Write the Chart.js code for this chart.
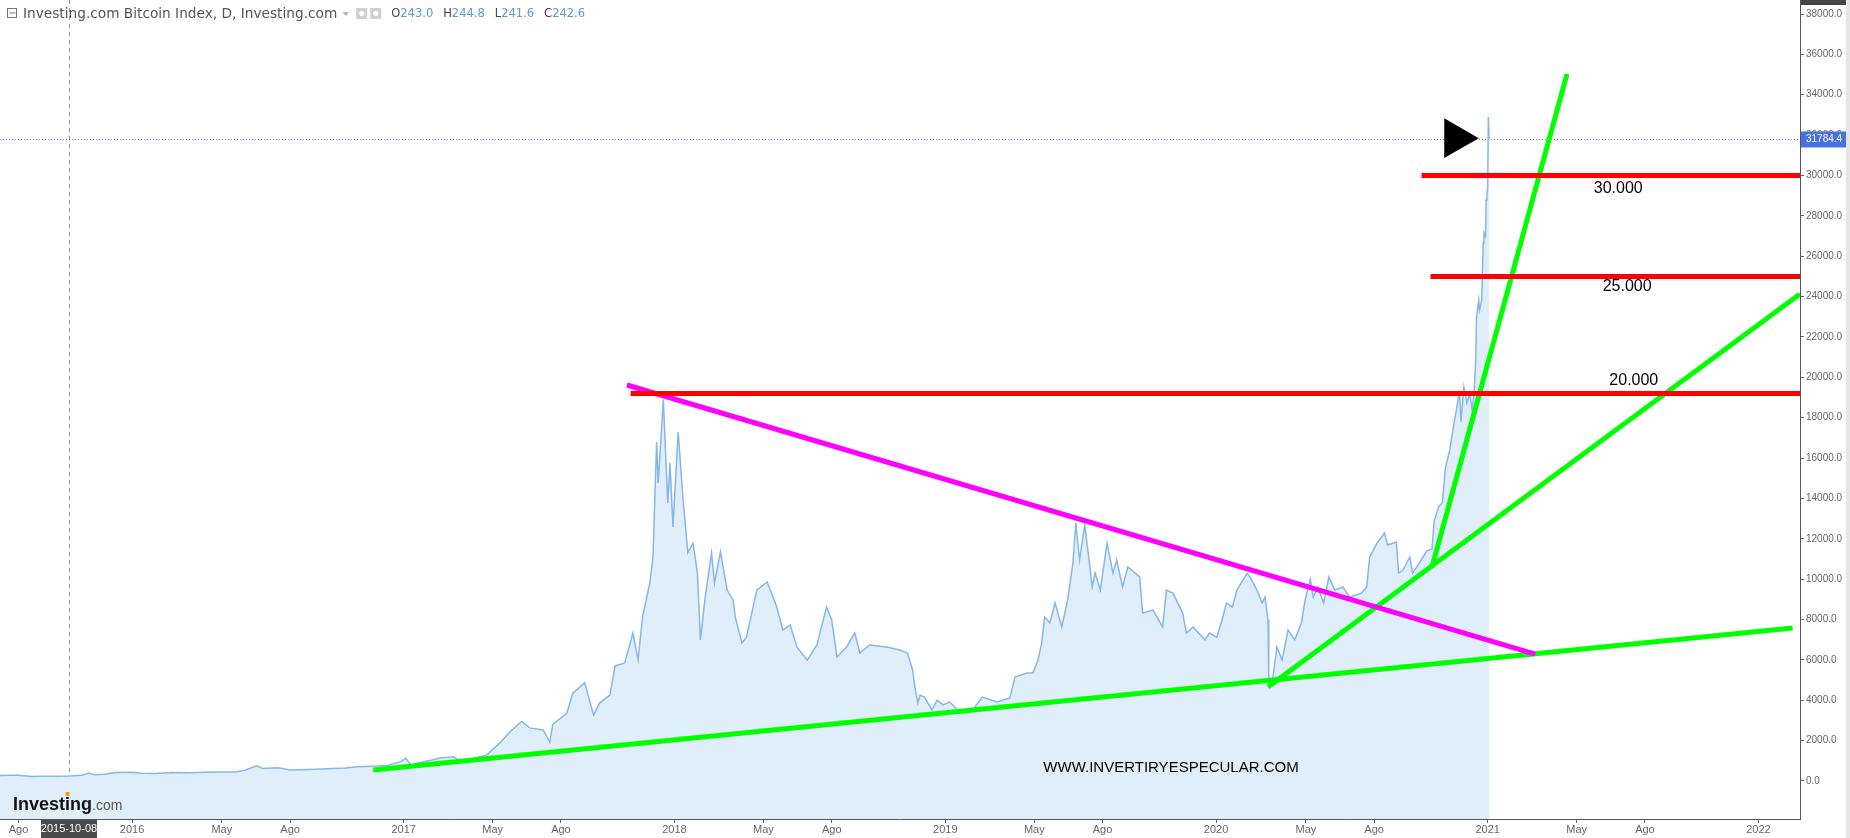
<!DOCTYPE html>
<html lang="es">
<head>
<meta charset="UTF-8">
<title>Investing.com Bitcoin Index</title>
<script src="https://cdn.jsdelivr.net/npm/chart.js"></script>
<style>
  html, body { margin: 0; padding: 0; background: #fff; overflow: hidden; }
</style>
</head>
<body>
<canvas id="btc" width="1850" height="838"></canvas>
<script>
// daily close
const dates = [
  '2015-07-07','2015-07-20','2015-08-01','2015-08-18','2015-09-01','2015-09-20','2015-10-08','2015-10-25',
  '2015-11-04','2015-11-11','2015-11-25','2015-12-10','2015-12-31','2016-01-15','2016-02-01','2016-02-25',
  '2016-03-20','2016-04-20','2016-05-20','2016-06-01','2016-06-17','2016-06-25','2016-07-15','2016-08-02',
  '2016-08-25','2016-09-20','2016-10-15','2016-10-30','2016-11-20','2016-12-10','2016-12-28','2017-01-04',
  '2017-01-11','2017-01-20','2017-02-05','2017-02-19','2017-03-10','2017-03-18','2017-03-30','2017-04-23',
  '2017-05-11','2017-05-24','2017-06-09','2017-06-20','2017-07-08','2017-07-17','2017-07-21','2017-08-09',
  '2017-08-17','2017-09-02','2017-09-14','2017-09-22','2017-10-06','2017-10-13','2017-10-26','2017-11-06',
  '2017-11-13','2017-11-19','2017-11-29','2017-12-03','2017-12-08','2017-12-10','2017-12-14','2017-12-17',
  '2017-12-23','2017-12-26','2017-12-30','2018-01-06','2018-01-12','2018-01-19','2018-01-26','2018-02-01',
  '2018-02-05','2018-02-11','2018-02-20','2018-02-24','2018-03-04','2018-03-13','2018-03-21','2018-03-24',
  '2018-04-02','2018-04-08','2018-04-22','2018-05-06','2018-05-19','2018-05-27','2018-06-06','2018-06-15',
  '2018-06-29','2018-07-12','2018-07-25','2018-08-01','2018-08-08','2018-08-21','2018-09-01','2018-09-08',
  '2018-09-21','2018-10-14','2018-11-01','2018-11-11','2018-11-18','2018-11-21','2018-11-25','2018-11-28',
  '2018-12-04','2018-12-14','2018-12-21','2018-12-29','2019-01-07','2019-01-18','2019-02-07','2019-02-20',
  '2019-03-12','2019-03-29','2019-04-05','2019-04-21','2019-04-29','2019-05-06','2019-05-11','2019-05-15',
  '2019-05-22','2019-05-29','2019-06-07','2019-06-15','2019-06-22','2019-06-26','2019-07-01','2019-07-08',
  '2019-07-15','2019-07-18','2019-07-22','2019-07-29','2019-08-07','2019-08-15','2019-08-20','2019-08-28',
  '2019-09-04','2019-09-20','2019-09-24','2019-10-08','2019-10-21','2019-10-26','2019-11-04','2019-11-17',
  '2019-11-22','2019-12-01','2019-12-17','2019-12-23','2020-01-02','2020-01-09','2020-01-15','2020-01-23',
  '2020-01-29','2020-02-12','2020-02-18','2020-02-25','2020-03-03','2020-03-07','2020-03-11','2020-03-12',
  '2020-03-17','2020-03-23','2020-03-30','2020-04-07','2020-04-16','2020-04-25','2020-04-30','2020-05-07',
  '2020-05-11','2020-05-17','2020-05-25','2020-06-01','2020-06-09','2020-06-20','2020-06-29','2020-07-15',
  '2020-07-22','2020-07-26','2020-08-05','2020-08-15','2020-08-19','2020-08-31','2020-09-03','2020-09-09',
  '2020-09-18','2020-09-22','2020-10-01','2020-10-11','2020-10-18','2020-10-21','2020-10-27','2020-11-01',
  '2020-11-05','2020-11-11','2020-11-17','2020-11-20','2020-11-24','2020-11-26','2020-11-30','2020-12-04',
  '2020-12-08','2020-12-11','2020-12-14','2020-12-16','2020-12-17','2020-12-20','2020-12-21','2020-12-24',
  '2020-12-26','2020-12-27','2020-12-29','2020-12-30','2020-12-31','2021-01-01','2021-01-02','2021-01-03'
];
const prices = [
  270, 280, 282, 228, 230, 232, 243, 290,
  400, 310, 330, 420, 430, 380, 375, 425,
  410, 440, 445, 530, 750, 620, 660, 540,
  575, 605, 640, 700, 730, 770, 960, 1130,
  780, 890, 1010, 1140, 1200, 960, 1050, 1290,
  1900, 2430, 2950, 2630, 2530, 1930, 2800, 3370,
  4350, 4860, 3270, 3860, 4260, 5700, 5850, 7330,
  6000, 8120, 9860, 11100, 16800, 14760, 17040, 18900,
  13770, 15750, 12580, 17290, 14270, 11300, 11790, 10300,
  6990, 8970, 11300, 9810, 11350, 9460, 8970, 8120,
  6840, 7130, 9460, 9860, 8620, 7480, 7730, 6640,
  5990, 6740, 8620, 7980, 6140, 6640, 7330, 6340,
  6740, 6640, 6490, 6340, 5500, 4660, 3860, 4260,
  4160, 3520, 4010, 3770, 3910, 3520, 3520, 4160,
  3910, 4110, 5150, 5350, 5350, 5990, 6840, 8120,
  7830, 8820, 7630, 8970, 10800, 12780, 10950, 12680,
  10600, 9610, 10300, 9460, 11790, 10300, 10950, 9610,
  10600, 10110, 8320, 8470, 7630, 9460, 9310, 8320,
  7330, 7630, 6990, 7330, 7130, 7980, 8820, 8620,
  9460, 10300, 9960, 9460, 8820, 9110, 7980, 5150,
  5000, 6640, 5990, 7480, 6990, 7830, 8970, 10000,
  9110, 9610, 8820, 10110, 9460, 9610, 9110, 9310,
  9610, 11100, 11790, 12290, 11690, 11840, 10300, 10450,
  11100, 10300, 10800, 11400, 11500, 12900, 13570, 13800,
  15500, 16400, 17800, 18400, 19370, 17800, 19520, 18730,
  19220, 18380, 19300, 21000, 22990, 23830, 23330, 23800,
  26650, 27150, 27000, 28780, 29000, 29400, 32900, 31784.4
];
const lastPrice = 31784.4;
const crossDate = '2015-10-08';
const ohlcKeys = ['O', 'H', 'L', 'C'];
const ohlcVals = ['243.0', '244.8', '241.6', '242.6'];

const xStart = '2015-07-07';
const xEnd = '2022-02-26';
const xTickDates = ['2015-08-01','2016-01-01','2016-05-01','2016-08-01','2017-01-01','2017-05-01','2017-08-01',
  '2018-01-01','2018-05-01','2018-08-01','2019-01-01','2019-05-01','2019-08-01','2020-01-01','2020-05-01',
  '2020-08-01','2021-01-01','2021-05-01','2021-08-01','2022-01-01'];
const xTickLabels = ['Ago','2016','May','Ago','2017','May','Ago','2018','May','Ago','2019','May','Ago',
  '2020','May','Ago','2021','May','Ago','2022'];
const yTicks = [0, 2000, 4000, 6000, 8000, 10000, 12000, 14000, 16000, 18000, 20000,
  22000, 24000, 26000, 28000, 30000, 32000, 34000, 36000, 38000];

// drawn levels and trend lines
const redLevels = [30000, 25000, 19200];
const redFrom = ['2020-10-04', '2020-10-16', '2017-11-03'];
const levelText = ['30.000', '25.000', '20.000'];
const levelTextDates = ['2021-06-26', '2021-07-08', '2021-07-17'];
const levelTextValues = [29330, 24475, 19818];
const magentaDates = ['2017-10-29', '2021-03-06'];
const magentaValues = [19620, 6290];
const greenLowDates = ['2016-11-21', '2022-02-16'];
const greenLowValues = [545, 7580];
const greenMidDates = ['2020-03-11', '2022-02-26'];
const greenMidValues = [4660, 24130];
const greenSteepDates = ['2020-10-18', '2021-04-18'];
const greenSteepValues = [10600, 35030];
const arrowDate = '2020-11-19';
const arrowValue = 31850;

const t = d => Date.parse(d);
const pts = (ds, vs) => ds.map((d, i) => ({ x: t(d), y: vs[i] }));
const tickLabelMap = {};
xTickDates.forEach((d, i) => { tickLabelMap[t(d)] = xTickLabels[i]; });

function segment(data, color, width) {
  return { type: 'line', data, borderColor: color, borderWidth: width, pointRadius: 0,
    borderCapStyle: 'butt', fill: false, tension: 0, order: 0 };
}

const datasets = [];
redLevels.forEach((v, i) => {
  datasets.push(segment([{ x: t(redFrom[i]), y: v }, { x: t(xEnd), y: v }], '#ff0000', 5));
});
datasets.push(segment(pts(magentaDates, magentaValues), '#ff00ff', 5));
datasets.push(segment(pts(greenLowDates, greenLowValues), '#00ff00', 5));
datasets.push(segment(pts(greenMidDates, greenMidValues), '#00ff00', 5));
datasets.push(segment(pts(greenSteepDates, greenSteepValues), '#00ff00', 5));
datasets.push({
  type: 'scatter', data: [{ x: t(arrowDate), y: arrowValue }], pointStyle: 'triangle', rotation: 90,
  pointRadius: 23, backgroundColor: '#000', borderColor: '#000', borderWidth: 0, order: 0
});
datasets.push({
  type: 'line', data: pts(dates, prices), borderColor: '#86b7e9', borderWidth: 1.5,
  backgroundColor: '#e0eef9', fill: 'start', pointRadius: 0, tension: 0, order: 10
});

const overlay = {
  id: 'overlay',
  beforeDatasetsDraw(chart) {
    const { ctx, chartArea: a, scales: { x, y } } = chart;
    ctx.save();
    // crosshair
    const cx = Math.round(x.getPixelForValue(t(crossDate))) + 0.5;
    ctx.strokeStyle = '#9a9a9a';
    ctx.lineWidth = 1;
    ctx.setLineDash([4, 4]);
    ctx.beginPath(); ctx.moveTo(cx, a.top); ctx.lineTo(cx, a.bottom); ctx.stroke();
    // last price line
    const py = Math.round(y.getPixelForValue(lastPrice)) + 0.5;
    ctx.strokeStyle = '#5a7fd8';
    ctx.setLineDash([1, 2]);
    ctx.beginPath(); ctx.moveTo(a.left, py); ctx.lineTo(a.right, py); ctx.stroke();
    ctx.restore();
  },
  afterDraw(chart) {
    const { ctx, chartArea: a, scales: { x, y } } = chart;
    ctx.save();
    // level texts
    ctx.fillStyle = '#000';
    ctx.font = '16px "Liberation Sans", Arial, sans-serif';
    ctx.textAlign = 'center';
    ctx.textBaseline = 'middle';
    levelText.forEach((s, i) => {
      ctx.fillText(s, x.getPixelForValue(t(levelTextDates[i])), y.getPixelForValue(levelTextValues[i]));
    });
    ctx.font = '15px "Liberation Sans", Arial, sans-serif';
    ctx.fillText('WWW.INVERTIRYESPECULAR.COM', 1171, 768);

    // right border strip
    ctx.fillStyle = '#e6e6e6';
    ctx.fillRect(1846, 0, 4, 838);

    // price label on the axis
    const py = y.getPixelForValue(lastPrice);
    ctx.fillStyle = '#4772e0';
    ctx.fillRect(a.right + 1, py - 8, 45, 16);
    ctx.fillStyle = '#fff';
    ctx.font = '10px "Liberation Sans", Arial, sans-serif';
    ctx.textAlign = 'left';
    ctx.fillText(lastPrice.toFixed(1), a.right + 6, py);
    ctx.fillStyle = '#444';
    ctx.fillRect(a.right + 1, 0, 45, 5);

    // crosshair date label
    const cx = x.getPixelForValue(t(crossDate));
    ctx.fillStyle = '#4a4a4a';
    ctx.fillRect(cx - 28, a.bottom + 1, 56, 18);
    ctx.fillStyle = '#fff';
    ctx.font = '11px "Liberation Sans", Arial, sans-serif';
    ctx.textAlign = 'center';
    ctx.fillText(crossDate, cx, a.bottom + 10);

    // logo
    ctx.textAlign = 'left';
    ctx.textBaseline = 'alphabetic';
    ctx.fillStyle = '#111';
    ctx.font = 'bold 18px "Liberation Sans", Arial, sans-serif';
    ctx.fillText('Investing', 13, 810);
    const lw = ctx.measureText('Investing').width;
    const iw = ctx.measureText('Invest').width;
    const iiw = ctx.measureText('i').width;
    ctx.fillStyle = '#f39c12';
    ctx.fillRect(13 + iw + iiw / 2 - 2, 792, 4, 4);
    ctx.fillStyle = '#555';
    ctx.font = '14px "Liberation Sans", Arial, sans-serif';
    ctx.fillText('.com', 13 + lw, 810);

    // header
    ctx.strokeStyle = '#777';
    ctx.lineWidth = 1;
    ctx.strokeRect(7.5, 8.5, 9, 9);
    ctx.beginPath(); ctx.moveTo(9.5, 13); ctx.lineTo(15.5, 13); ctx.stroke();
    ctx.font = '13.7px "DejaVu Sans", sans-serif';
    ctx.textBaseline = 'middle';
    ctx.fillStyle = '#555';
    const title = 'Investing.com Bitcoin Index, D, Investing.com';
    ctx.fillText(title, 23, 14);
    let hx = 23 + ctx.measureText(title).width + 5;
    ctx.fillStyle = '#bbb';
    ctx.beginPath(); ctx.moveTo(hx, 12); ctx.lineTo(hx + 7, 12); ctx.lineTo(hx + 3.5, 16); ctx.fill();
    hx += 14;
    ctx.fillStyle = '#d0d0d0';
    ctx.fillRect(hx, 8, 11, 11);
    ctx.fillRect(hx + 14, 8, 11, 11);
    ctx.fillStyle = '#fff';
    ctx.beginPath(); ctx.arc(hx + 5.5, 13.5, 2.5, 0, Math.PI * 2); ctx.fill();
    ctx.beginPath(); ctx.arc(hx + 19.5, 13.5, 2.5, 0, Math.PI * 2); ctx.fill();
    hx += 35;
    ctx.font = '11.5px "DejaVu Sans", sans-serif';
    ohlcKeys.forEach((k, i) => {
      ctx.fillStyle = '#444';
      ctx.fillText(k, hx, 14);
      hx += ctx.measureText(k).width;
      ctx.fillStyle = '#5b9bd5';
      ctx.fillText(ohlcVals[i], hx, 14);
      hx += ctx.measureText(ohlcVals[i]).width + 10;
    });
    ctx.restore();
  }
};

new Chart(document.getElementById('btc'), {
  data: { datasets },
  options: {
    responsive: false,
    animation: false,
    layout: { padding: 0, autoPadding: false },
    plugins: { legend: { display: false }, tooltip: { enabled: false } },
    scales: {
      x: {
        type: 'linear',
        min: t(xStart),
        max: t(xEnd),
        afterBuildTicks: s => { s.ticks = xTickDates.map(d => ({ value: t(d) })); },
        afterFit: s => { s.height = 19; s.paddingLeft = 0; s.paddingRight = 0; },
        ticks: {
          autoSkip: false, maxRotation: 0, padding: 0,
          color: '#666', font: { family: '"Liberation Sans", Arial, sans-serif', size: 11 },
          callback: v => tickLabelMap[v] || ''
        },
        grid: { drawOnChartArea: false, drawTicks: true, tickLength: 4, color: '#666' },
        border: { display: true, color: '#555' }
      },
      y: {
        type: 'linear',
        position: 'right',
        min: -1883,
        max: 38694,
        afterBuildTicks: s => { s.ticks = yTicks.map(v => ({ value: v })); },
        afterFit: s => { s.width = 50; s.paddingTop = 0; s.paddingBottom = 0; },
        ticks: {
          padding: 2,
          color: '#666', font: { family: '"Liberation Sans", Arial, sans-serif', size: 10 },
          callback: v => Number(v).toFixed(1)
        },
        grid: { drawOnChartArea: false, drawTicks: true, tickLength: 4, color: '#666' },
        border: { display: true, color: '#555' }
      }
    }
  },
  plugins: [overlay]
});
</script>
</body>
</html>
